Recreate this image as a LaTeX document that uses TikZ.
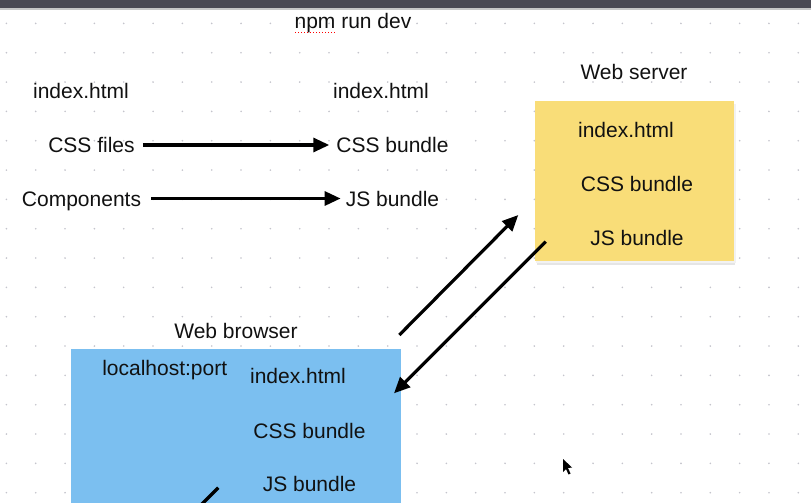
\documentclass[tikz,border=0pt]{standalone}
\usepackage{fontspec}
\setmainfont{Liberation Sans}
\usetikzlibrary{arrows.meta,calc}
\definecolor{barc}{HTML}{4A4953}
\definecolor{dotc}{HTML}{C4C4CC}
\definecolor{servc}{HTML}{F9DD78}
\definecolor{browc}{HTML}{7BBFF0}
\definecolor{txtc}{HTML}{111111}
\tikzset{
  lbl/.style={anchor=base, inner sep=0pt, text=txtc, font=\fontsize{21}{25}\selectfont},
  flow/.style={line width=3.2pt, -{Triangle[length=16pt,width=14pt]}},
  plain/.style={line width=3.2pt}
}
\begin{document}
\begin{tikzpicture}[x=1pt,y=-1pt]
\useasboundingbox (0,0) rectangle (811,503);
\fill[white] (0,0) rectangle (811,503);
% dot grid
\foreach \i in {0,...,27}{
  \foreach \j in {0,...,16}{
    \fill[dotc] ({6.4+29.33*\i},{23.4+29.33*\j}) circle (0.9pt);
  }
}
% top bar
\fill[barc] (0,0) rectangle (811,8.5);
\fill[gray!45] (0,8.5) rectangle (811,10);
% title
\node[lbl] (title) at (353,28.5) {npm run dev};
\draw[red, line width=1.4pt, dash pattern=on 1.4pt off 1.6pt] (295,32.5) -- (336,32.5);
% left column
\node[lbl] (idxL) at (81,98.5) {index.html};
\node[lbl] (cssL) at (91.5,152.5) {CSS files};
\node[lbl] (cmpL) at (81.5,206.5) {Components};
% middle column
\node[lbl] (idxM) at (381,98.5) {index.html};
\node[lbl] (cssM) at (392.5,152.5) {CSS bundle};
\node[lbl] (jsM) at (392.5,206.5) {JS bundle};
\coordinate (r1) at (0,145);
\coordinate (r2) at (0,198.5);
\draw[flow, shorten <=8pt, shorten >=7pt] (cssL.east |- r1) -- (cssM.west |- r1);
\draw[flow, shorten <=10pt, shorten >=5pt] (cmpL.east |- r2) -- (jsM.west |- r2);
% web server
\node[lbl] (wsT) at (634,79) {Web server};
\fill[black!10] (537,106) rectangle (735,264.5);
\fill[black!5] (536,104) rectangle (735.5,262.5);
\node[fill=servc, minimum width=199pt, minimum height=160pt, anchor=north west, inner sep=0pt] (server) at (535,100.7) {};
\node[lbl] (idxS) at (626,137.5) {index.html};
\node[lbl] (cssS) at (637,191) {CSS bundle};
\node[lbl] (jsS) at (637,245.5) {JS bundle};
% web browser
\node[lbl] (wbT) at (236,338) {Web browser};
\node[fill=browc, minimum width=330.3pt, minimum height=170pt, anchor=north west, inner sep=0pt] (browser) at (70.7,349) {};
\node[lbl] (host) at (164.7,375) {localhost:port};
\node[lbl] (idxB) at (298,383.5) {index.html};
\node[lbl] (cssB) at (309.5,438) {CSS bundle};
\node[lbl] (jsB) at (309.5,491.5) {JS bundle};
% connectors
\coordinate (upS) at (399.3,335);
\coordinate (upE) at (518.3,215);
\coordinate (dnS) at (545.7,241.7);
\coordinate (dnE) at (394,393.3);
\coordinate (ofS) at (218.3,487.7);
\coordinate (ofE) at (196,510);
\draw[flow] (upS) -- (upE);
\draw[flow] (dnS) -- (dnE);
\draw[plain] (ofS) -- (ofE);
% cursor
\fill[black] (563,459) -- (563,472) -- (566,469) -- (568.5,474.5) -- (570.5,473.5) -- (568,468) -- (572,467.5) -- cycle;
\end{tikzpicture}
\end{document}
